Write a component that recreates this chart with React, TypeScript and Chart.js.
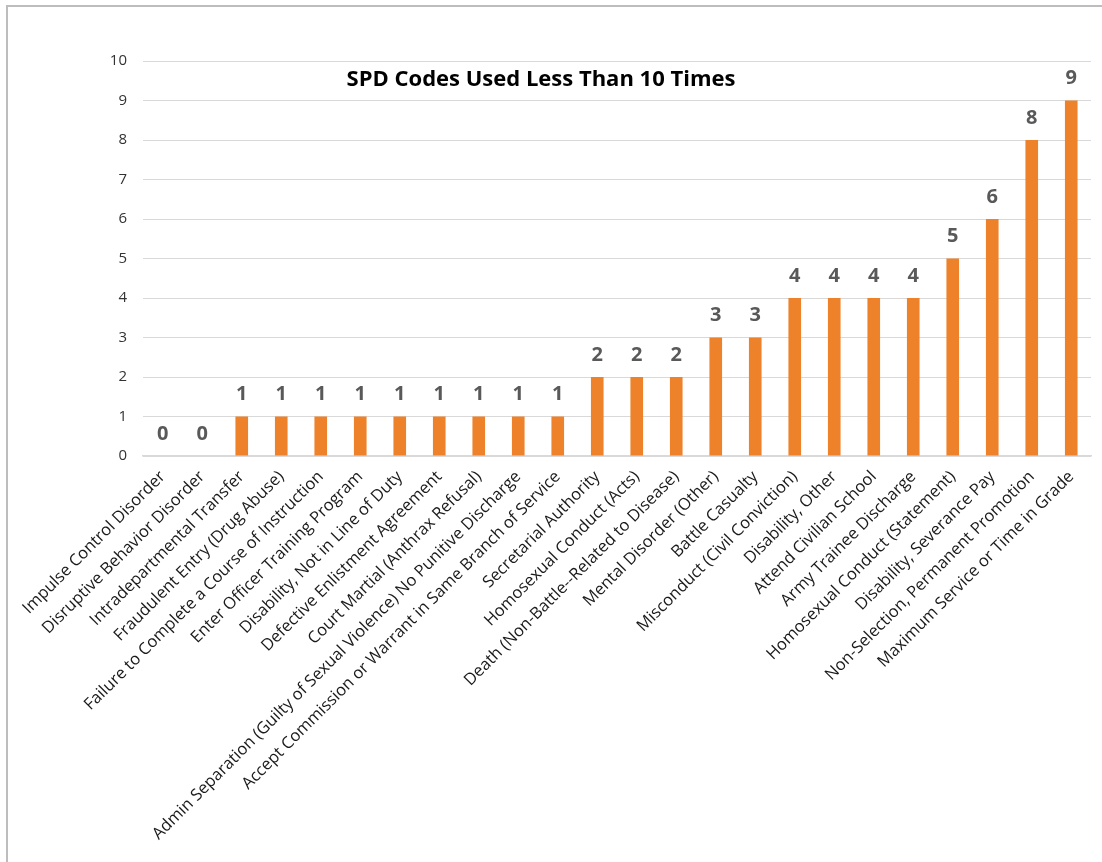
import React, { useEffect, useRef } from "react";
import { Chart, registerables } from "chart.js";

Chart.register(...registerables);

const categories: string[] = [
  "Impulse Control Disorder",
  "Disruptive Behavior Disorder",
  "Intradepartmental Transfer",
  "Fraudulent Entry (Drug Abuse)",
  "Failure to Complete a Course of Instruction",
  "Enter Officer Training Program",
  "Disability, Not in Line of Duty",
  "Defective Enlistment Agreement",
  "Court Martial (Anthrax Refusal)",
  "Admin Separation (Guilty of Sexual Violence) No Punitive Discharge",
  "Accept Commission or Warrant in Same Branch of Service",
  "Secretarial Authority",
  "Homosexual Conduct (Acts)",
  "Death (Non-Battle--Related to Disease)",
  "Mental Disorder (Other)",
  "Battle Casualty",
  "Misconduct (Civil Conviction)",
  "Disability, Other",
  "Attend Civilian School",
  "Army Trainee Discharge",
  "Homosexual Conduct (Statement)",
  "Disability, Severance Pay",
  "Non-Selection, Permanent Promotion",
  "Maximum Service or Time in Grade",
];

const counts: number[] = [0, 0, 1, 1, 1, 1, 1, 1, 1, 1, 1, 2, 2, 2, 3, 3, 4, 4, 4, 4, 5, 6, 8, 9];

const yTicks: number[] = [0, 1, 2, 3, 4, 5, 6, 7, 8, 9, 10];

const chartTitle = "SPD Codes Used Less Than 10 Times";

const FONT = "'Open Sans', Lato, sans-serif";

export default function App() {
  const ref = useRef<HTMLCanvasElement | null>(null);

  useEffect(() => {
    if (!ref.current) return;
    const labelPlugin = {
      id: "valueLabels",
      afterDatasetsDraw(chart: any) {
        const ctx = chart.ctx;
        const meta = chart.getDatasetMeta(0);
        ctx.save();
        ctx.font = `bold 20px ${FONT}`;
        ctx.fillStyle = "#595959";
        ctx.textAlign = "center";
        ctx.textBaseline = "middle";
        meta.data.forEach((el: any, i: number) => {
          ctx.fillText(String(counts[i]), el.x, el.y - 22);
        });
        ctx.restore();
      },
    };
    const titlePlugin = {
      id: "overlayTitle",
      afterDraw(chart: any) {
        const ctx = chart.ctx;
        ctx.save();
        ctx.font = `bold 22px ${FONT}`;
        ctx.fillStyle = "#000000";
        ctx.textAlign = "center";
        ctx.textBaseline = "middle";
        ctx.fillText(chartTitle, 541, 80);
        ctx.restore();
      },
    };
    const chart = new Chart(ref.current, {
      type: "bar",
      data: {
        labels: categories,
        datasets: [
          {
            data: counts,
            backgroundColor: "#EE822A",
            borderWidth: 0,
            barPercentage: 0.32,
            categoryPercentage: 1,
          },
        ],
      },
      options: {
        responsive: false,
        animation: false,
        layout: { padding: { top: 61, right: 11, left: 0, bottom: 0 } },
        plugins: {
          legend: { display: false },
          title: { display: false },
          tooltip: { enabled: false },
        },
        scales: {
          x: {
            grid: { display: false },
            border: { display: true, color: "#d9d9d9", width: 1.5 },
            ticks: {
              autoSkip: false,
              minRotation: 45,
              maxRotation: 45,
              color: "#1a1a1a",
              font: { family: FONT, size: 16.5 },
              padding: 3,
            },
            afterFit: (scale: any) => {
              scale.height = 406;
            },
          },
          y: {
            min: 0,
            max: 10,
            afterBuildTicks: (scale: any) => {
              scale.ticks = yTicks.map((v) => ({ value: v }));
            },
            grid: { color: "#d9d9d9", lineWidth: 1, drawTicks: false },
            border: { display: false },
            ticks: {
              color: "#333333",
              font: { family: FONT, size: 15 },
              padding: 16,
            },
            afterFit: (scale: any) => {
              scale.width = 143;
            },
          },
        },
      },
      plugins: [labelPlugin, titlePlugin],
    });
    return () => chart.destroy();
  }, []);

  return (
    <div style={{ position: "fixed", left: 0, top: 0, width: 1102, height: 862, overflow: "hidden", background: "#fff" }}>
      <div
        style={{
          position: "absolute",
          left: 6,
          top: 5,
          width: 1300,
          height: 1100,
          border: "2px solid #bdbdbd",
          boxSizing: "border-box",
        }}
      />
      <canvas ref={ref} width={1102} height={862} style={{ position: "absolute", left: 0, top: 0 }} />
    </div>
  );
}
